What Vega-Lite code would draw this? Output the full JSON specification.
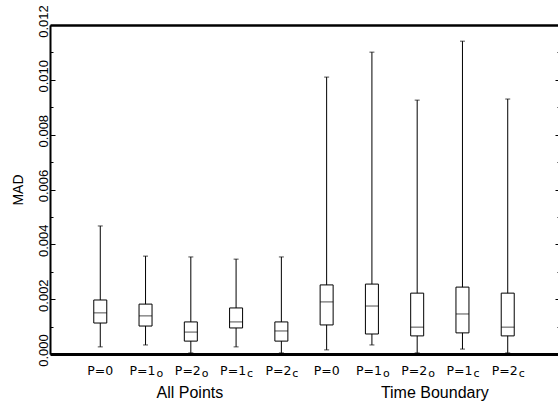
{
  "$schema": "https://vega.github.io/schema/vega-lite/v6.json",
  "width": 508,
  "height": 329,
  "autosize": "none",
  "padding": {"left": 50, "top": 25, "right": 0, "bottom": 50},
  "background": "white",
  "config": {"view": {"stroke": null}, "font": "DejaVu Sans"},
  "datasets": {
    "boxes": [
      {"pos": 1, "main": "P=0", "sub": "", "lower": 0.00026, "q1": 0.00113, "median": 0.00150, "q3": 0.00197, "upper": 0.00467},
      {"pos": 2, "main": "P=1", "sub": "o", "lower": 0.00033, "q1": 0.00102, "median": 0.00139, "q3": 0.00182, "upper": 0.00357},
      {"pos": 3, "main": "P=2", "sub": "o", "lower": 0.00004, "q1": 0.00047, "median": 0.00080, "q3": 0.00117, "upper": 0.00354},
      {"pos": 4, "main": "P=1", "sub": "c", "lower": 0.00026, "q1": 0.00095, "median": 0.00117, "q3": 0.00168, "upper": 0.00346},
      {"pos": 5, "main": "P=2", "sub": "c", "lower": 0.00004, "q1": 0.00047, "median": 0.00084, "q3": 0.00117, "upper": 0.00354},
      {"pos": 6, "main": "P=0", "sub": "", "lower": 0.00015, "q1": 0.00106, "median": 0.00190, "q3": 0.00252, "upper": 0.01010},
      {"pos": 7, "main": "P=1", "sub": "o", "lower": 0.00033, "q1": 0.00073, "median": 0.00175, "q3": 0.00255, "upper": 0.01101},
      {"pos": 8, "main": "P=2", "sub": "o", "lower": 0.00004, "q1": 0.00066, "median": 0.00098, "q3": 0.00222, "upper": 0.00926},
      {"pos": 9, "main": "P=1", "sub": "c", "lower": 0.00018, "q1": 0.00077, "median": 0.00146, "q3": 0.00244, "upper": 0.01141},
      {"pos": 10, "main": "P=2", "sub": "c", "lower": 0.00004, "q1": 0.00066, "median": 0.00098, "q3": 0.00222, "upper": 0.00930}
    ],
    "groups": [
      {"pos": 2.98, "name": "All Points"},
      {"pos": 8.39, "name": "Time Boundary"}
    ]
  },
  "data": {"name": "boxes"},
  "layer": [
    {
      "mark": {"type": "rule", "color": "black", "strokeWidth": 1},
      "encoding": {
        "x": {"field": "pos", "type": "quantitative", "scale": {"domain": [0, 11], "nice": false, "zero": false},
          "axis": {"orient": "bottom", "labels": false, "ticks": false, "grid": false, "domain": true, "domainColor": "black", "domainWidth": 3, "title": null}},
        "y": {"field": "upper", "type": "quantitative", "scale": {"domain": [0, 0.012], "nice": false},
          "axis": {
            "orient": "left",
            "values": [0, 0.001, 0.002, 0.003, 0.004, 0.005, 0.006, 0.007, 0.008, 0.009, 0.010, 0.011, 0.012],
            "labelExpr": "round(datum.value*1000) % 2 == 0 ? format(datum.value, '.3f') : ''",
            "grid": false,
            "domainColor": "black",
            "domainWidth": 2,
            "tickColor": "black",
            "tickWidth": 1,
            "tickSize": {"condition": {"test": "round(datum.value*1000) % 2 == 0", "value": -5}, "value": -3},
            "labelAngle": 270,
            "labelAlign": "center",
            "labelBaseline": "alphabetic",
            "labelPadding": 8,
            "labelOffset": -4,
            "labelFont": "Liberation Sans",
            "labelFontSize": 13,
            "labelColor": "black",
            "labelFlush": false,
            "labelOverlap": false,
            "title": "MAD",
            "titleFont": "Liberation Sans",
            "titleFontSize": 14,
            "titleFontWeight": "normal",
            "titleColor": "black",
            "titlePadding": 10
          }},
        "y2": {"field": "lower"}
      }
    },
    {
      "mark": {"type": "bar", "fill": "white", "stroke": "black", "strokeWidth": 1, "size": 13},
      "encoding": {
        "x": {"field": "pos", "type": "quantitative",
          "axis": {"orient": "top", "labels": false, "ticks": false, "grid": false, "domain": true, "domainColor": "black", "domainWidth": 2.5, "title": null}},
        "y": {"field": "q3", "type": "quantitative",
          "axis": {
            "orient": "right",
            "values": [0, 0.001, 0.002, 0.003, 0.004, 0.005, 0.006, 0.007, 0.008, 0.009, 0.010, 0.011, 0.012],
            "labels": false,
            "domain": false,
            "grid": false,
            "tickColor": "black",
            "tickWidth": 1,
            "tickSize": {"condition": {"test": "round(datum.value*1000) % 2 == 0", "value": -3}, "value": -1},
            "title": null
          }},
        "y2": {"field": "q1"}
      }
    },
    {
      "mark": {"type": "tick", "color": "black", "orient": "horizontal", "size": 13, "thickness": 1},
      "encoding": {
        "x": {"field": "pos", "type": "quantitative", "axis": null},
        "y": {"field": "median", "type": "quantitative", "axis": null}
      }
    },
    {
      "mark": {"type": "tick", "color": "black", "orient": "horizontal", "size": 5, "thickness": 1},
      "encoding": {
        "x": {"field": "pos", "type": "quantitative", "axis": null},
        "y": {"field": "upper", "type": "quantitative", "axis": null}
      }
    },
    {
      "mark": {"type": "tick", "color": "black", "orient": "horizontal", "size": 5, "thickness": 1},
      "encoding": {
        "x": {"field": "pos", "type": "quantitative", "axis": null},
        "y": {"field": "lower", "type": "quantitative", "axis": null}
      }
    },
    {
      "transform": [{"filter": "datum.sub == ''"}],
      "mark": {"type": "text", "align": "center", "baseline": "alphabetic", "dy": 21, "font": "DejaVu Sans", "fontSize": 12.5, "color": "black"},
      "encoding": {
        "x": {"field": "pos", "type": "quantitative", "axis": null},
        "y": {"datum": 0, "axis": null},
        "text": {"field": "main"}
      }
    },
    {
      "transform": [{"filter": "datum.sub != ''"}],
      "mark": {"type": "text", "align": "right", "baseline": "alphabetic", "dx": 10, "dy": 21, "font": "DejaVu Sans", "fontSize": 12.5, "color": "black"},
      "encoding": {
        "x": {"field": "pos", "type": "quantitative", "axis": null},
        "y": {"datum": 0, "axis": null},
        "text": {"field": "main"}
      }
    },
    {
      "transform": [{"filter": "datum.sub != ''"}],
      "mark": {"type": "text", "align": "left", "baseline": "alphabetic", "dx": 11, "dy": 23, "font": "DejaVu Sans", "fontSize": 11, "color": "black"},
      "encoding": {
        "x": {"field": "pos", "type": "quantitative", "axis": null},
        "y": {"datum": 0, "axis": null},
        "text": {"field": "sub"}
      }
    },
    {
      "data": {"name": "groups"},
      "mark": {"type": "text", "align": "center", "baseline": "alphabetic", "dy": 44, "font": "Liberation Sans", "fontSize": 16, "color": "black"},
      "encoding": {
        "x": {"field": "pos", "type": "quantitative", "axis": null},
        "y": {"datum": 0, "axis": null},
        "text": {"field": "name"}
      }
    }
  ]
}
